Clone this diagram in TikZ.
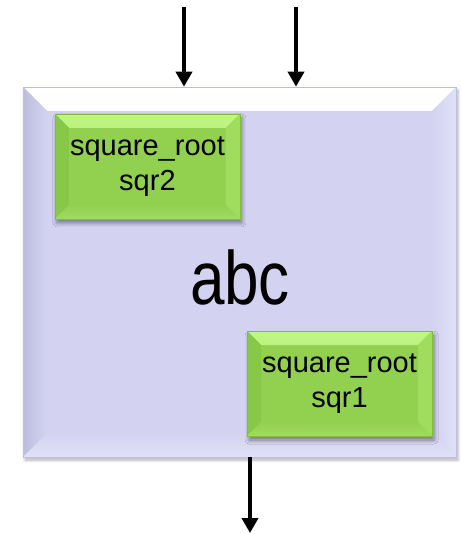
\documentclass[tikz,border=0pt]{standalone}
\usepackage{fontspec}
\setmainfont{Liberation Sans}
\usepackage{tikz}
\usetikzlibrary{arrows.meta,positioning,shadows.blur}
\definecolor{lvface}{RGB}{211,211,241}
\definecolor{lvdark}{RGB}{188,188,222}
\definecolor{lvlight}{RGB}{224,224,247}
\definecolor{lvedge}{RGB}{190,190,224}
\definecolor{grface}{RGB}{146,208,80}
\definecolor{grlight}{RGB}{192,246,132}
\definecolor{grdark}{RGB}{136,200,72}
\definecolor{grsoft}{RGB}{160,220,94}
\definecolor{gredge}{RGB}{128,190,64}
% bevel inside a node: depth, top, left, bottom, right
\newcommand{\bevel}[5]{%
  \path[#2] (path picture bounding box.north west) -- (path picture bounding box.north east)
    -- ([shift={(-#1,-#1)}]path picture bounding box.north east)
    -- ([shift={(#1,-#1)}]path picture bounding box.north west) -- cycle;
  \path[#3] (path picture bounding box.north west) -- ([shift={(#1,-#1)}]path picture bounding box.north west)
    -- ([shift={(#1,#1)}]path picture bounding box.south west) -- (path picture bounding box.south west) -- cycle;
  \path[#4] (path picture bounding box.south west) -- (path picture bounding box.south east)
    -- ([shift={(-#1,#1)}]path picture bounding box.south east)
    -- ([shift={(#1,#1)}]path picture bounding box.south west) -- cycle;
  \path[#5] (path picture bounding box.north east) -- (path picture bounding box.south east)
    -- ([shift={(-#1,#1)}]path picture bounding box.south east)
    -- ([shift={(-#1,-#1)}]path picture bounding box.north east) -- cycle;
}
\tikzstyle{arrow} = [line width=3.6pt,-{Triangle[width=16pt,length=15pt]},color=black]
\tikzstyle{frame} = [rectangle, minimum width=433pt, minimum height=370pt, inner sep=0pt, fill=lvface, draw=lvedge, line width=0.6pt,
  blur shadow={shadow xshift=2pt, shadow yshift=-3pt, shadow blur radius=3pt, shadow opacity=30},
  path picture={\bevel{24pt}{top color=white,bottom color=lvface!60!white}{left color=lvdark,right color=lvface}{top color=lvface,bottom color=lvlight}{left color=lvface,right color=lvlight}}]
\tikzstyle{block} = [rectangle, minimum width=185pt, minimum height=105pt, inner sep=0pt, fill=grface, draw=gredge, line width=0.5pt, align=center,
  font=\fontsize{29}{35}\selectfont,
  blur shadow={shadow xshift=2pt, shadow yshift=-4pt, shadow blur radius=4pt, shadow opacity=45},
  path picture={\bevel{14pt}{top color=grlight,bottom color=grsoft}{fill=grdark}{top color=grface,bottom color=grsoft}{fill=grsoft}}]

\begin{document}
\begin{tikzpicture}[x=1pt,y=-1pt]
\useasboundingbox (0,0) rectangle (460,534);
% top level
\node (top) [frame] at (239.5,272) {};
\node (name) [font=\fontsize{62}{62}\selectfont] at (240,277) {\scalebox{1}[1.22]{abc}};

% instances
\node (sqr2) [block, below right=27pt and 32pt of top.north west] {square\_root\\sqr2};
\node (sqr1) [block, above left=21pt and 24pt of top.south east] {square\_root\\sqr1};

% ports
\coordinate (in1) at (184,7);
\coordinate (in2) at (296,7);
\coordinate (out) at (250,533);
\draw[arrow] (in1) -- (in1 |- top.north);
\draw[arrow] (in2) -- (in2 |- top.north);
\draw[arrow] (out |- top.south) -- (out);
\end{tikzpicture}
\end{document}
